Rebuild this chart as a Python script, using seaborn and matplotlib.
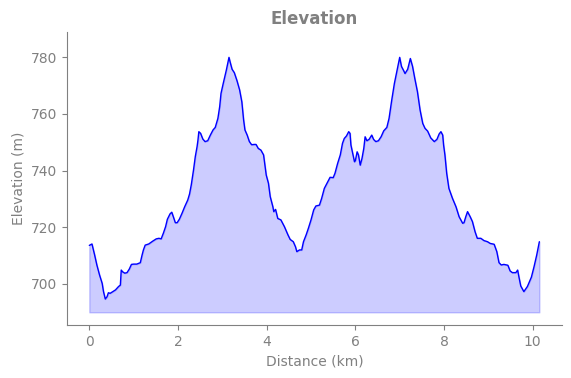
import matplotlib
matplotlib.use("Agg")
import matplotlib.pyplot as plt
import seaborn as sns
import pandas as pd

# distance along the track (km) and elevation (m)
distance_km = [
    0.00, 0.06, 0.12, 0.17, 0.23, 0.29, 0.32, 0.36, 0.40, 0.43,
    0.47, 0.53, 0.59, 0.66, 0.70, 0.72, 0.75, 0.80, 0.85, 0.90,
    0.95, 1.00, 1.07, 1.15, 1.19, 1.22, 1.26, 1.34, 1.43, 1.51,
    1.57, 1.62, 1.67, 1.72, 1.76, 1.82, 1.86, 1.90, 1.94, 1.98,
    2.03, 2.09, 2.15, 2.22, 2.26, 2.30, 2.35, 2.39, 2.43, 2.45,
    2.47, 2.51, 2.56, 2.61, 2.67, 2.73, 2.79, 2.84, 2.90, 2.94,
    2.97, 3.02, 3.09, 3.15, 3.18, 3.22, 3.27, 3.33, 3.39, 3.44,
    3.48, 3.51, 3.56, 3.61, 3.66, 3.72, 3.76, 3.81, 3.87, 3.93,
    3.96, 3.99, 4.04, 4.08, 4.14, 4.16, 4.20, 4.25, 4.32, 4.40,
    4.48, 4.53, 4.60, 4.65, 4.68, 4.74, 4.79, 4.83, 4.89, 4.94,
    5.00, 5.06, 5.11, 5.19, 5.24, 5.30, 5.38, 5.43, 5.50, 5.54,
    5.60, 5.66, 5.71, 5.75, 5.80, 5.85, 5.88, 5.90, 5.94, 5.98,
    6.00, 6.04, 6.07, 6.11, 6.15, 6.19, 6.22, 6.26, 6.31, 6.37,
    6.41, 6.46, 6.52, 6.58, 6.64, 6.71, 6.76, 6.82, 6.88, 6.94,
    7.00, 7.04, 7.09, 7.12, 7.18, 7.24, 7.29, 7.34, 7.40, 7.46,
    7.52, 7.57, 7.63, 7.70, 7.78, 7.84, 7.89, 7.93, 7.97, 7.99,
    8.02, 8.06, 8.11, 8.19, 8.27, 8.34, 8.42, 8.45, 8.49, 8.53,
    8.59, 8.64, 8.70, 8.75, 8.83, 8.90, 8.98, 9.04, 9.13, 9.19,
    9.24, 9.29, 9.35, 9.44, 9.49, 9.54, 9.62, 9.66, 9.69, 9.73,
    9.80, 9.88, 9.97, 10.03, 10.09, 10.15,
]
elevation_m = [
    713.6, 714.1, 710.2, 706.7, 703.2, 700.2, 697.3, 694.7, 695.5, 696.9,
    696.7, 697.3, 697.9, 699.1, 699.6, 704.9, 704.3, 703.8, 704.0, 705.2,
    706.9, 707.0, 707.0, 707.5, 710.2, 712.0, 713.7, 714.1, 715.1, 715.9,
    716.1, 715.9, 717.9, 720.2, 722.8, 724.7, 725.3, 723.5, 721.6, 721.6,
    722.8, 724.9, 727.2, 729.6, 731.7, 735.0, 740.2, 744.9, 748.4, 750.7,
    753.7, 753.1, 751.1, 750.2, 750.5, 752.5, 754.3, 755.2, 758.4, 762.5,
    767.2, 770.7, 775.4, 779.9, 778.0, 775.7, 774.5, 771.7, 768.4, 764.2,
    757.8, 754.3, 752.5, 750.2, 749.1, 749.2, 749.2, 747.8, 747.2, 745.5,
    741.9, 738.4, 735.5, 730.8, 727.2, 725.5, 726.3, 723.1, 722.6, 720.2,
    717.3, 715.7, 714.9, 713.1, 711.4, 712.0, 712.0, 714.9, 717.3, 719.6,
    722.6, 726.1, 727.5, 727.8, 730.2, 733.7, 736.1, 737.6, 737.5, 739.0,
    742.5, 745.5, 749.6, 751.3, 752.2, 753.7, 753.1, 749.0, 746.1, 743.1,
    743.5, 746.6, 745.5, 741.9, 744.3, 747.8, 751.9, 750.5, 751.0, 752.5,
    751.0, 750.2, 750.5, 751.9, 754.0, 755.2, 758.4, 764.8, 770.7, 775.4,
    779.9, 776.7, 775.2, 774.2, 775.7, 779.5, 776.7, 772.5, 767.8, 761.3,
    756.6, 754.9, 753.9, 751.5, 750.2, 751.0, 752.9, 753.7, 752.5, 749.0,
    745.5, 739.0, 733.7, 730.2, 727.2, 723.7, 721.4, 721.6, 723.7, 725.5,
    723.7, 722.0, 718.4, 716.1, 716.1, 715.3, 714.9, 714.3, 714.0, 711.4,
    707.5, 706.7, 706.9, 706.6, 704.6, 704.0, 704.0, 704.9, 702.4, 699.3,
    697.3, 699.1, 702.4, 706.1, 710.2, 714.9,
]
base_elevation = 690

df = pd.DataFrame({"Distance (km)": distance_km, "Elevation (m)": elevation_m})

sns.set_style("ticks")
grey = "#808080"

fig, ax = plt.subplots(figsize=(5.71, 3.78), dpi=100)
fig.subplots_adjust(left=0.117, right=0.984, top=0.915, bottom=0.14)

ax.fill_between(df["Distance (km)"], df["Elevation (m)"], base_elevation,
                color="blue", alpha=0.2)
sns.lineplot(data=df, x="Distance (km)", y="Elevation (m)", color="blue",
             linewidth=1, ax=ax)

ax.set_ylim(685.5, 788.8)
ax.set_xticks([0, 2, 4, 6, 8, 10])
ax.set_yticks([700, 720, 740, 760, 780])

ax.set_title("Elevation", color=grey, fontweight="bold", fontsize=12)
ax.set_xlabel("Distance (km)", color=grey, fontsize=10)
ax.set_ylabel("Elevation (m)", color=grey, fontsize=10)
ax.tick_params(colors=grey, labelsize=10)
for side in ["left", "bottom"]:
    ax.spines[side].set_color(grey)
sns.despine(ax=ax)

fig.savefig("out.png", dpi=100)
